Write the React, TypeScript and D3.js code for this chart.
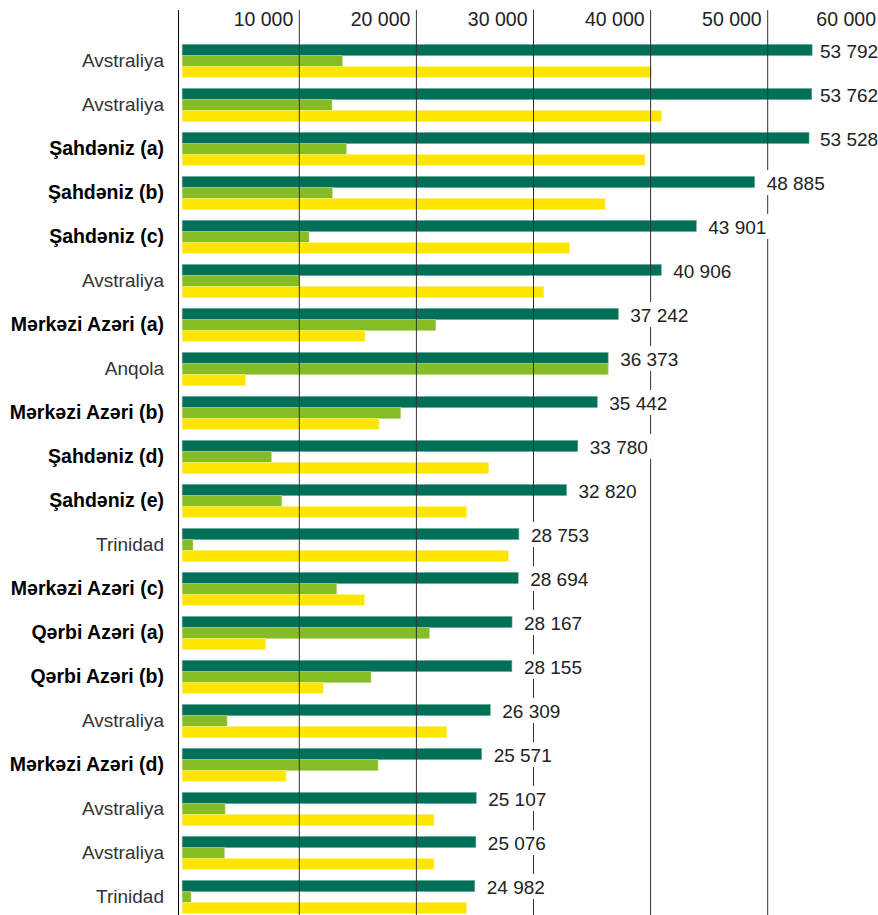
import React from "react";
import * as d3 from "d3";

const categories = [
  "Avstraliya", "Avstraliya", "Şahdəniz (a)", "Şahdəniz (b)", "Şahdəniz (c)",
  "Avstraliya", "Mərkəzi Azəri (a)", "Anqola", "Mərkəzi Azəri (b)", "Şahdəniz (d)",
  "Şahdəniz (e)", "Trinidad", "Mərkəzi Azəri (c)", "Qərbi Azəri (a)", "Qərbi Azəri (b)",
  "Avstraliya", "Mərkəzi Azəri (d)", "Avstraliya", "Avstraliya", "Trinidad",
];
const boldFlags = [
  false, false, true, true, true,
  false, true, false, true, true,
  true, false, true, true, true,
  false, true, false, false, false,
];
const totalValues = [
  53792, 53762, 53528, 48885, 43901, 40906, 37242, 36373, 35442, 33780,
  32820, 28753, 28694, 28167, 28155, 26309, 25571, 25107, 25076, 24982,
];
const greenValues = [
  13670, 12790, 14010, 12820, 10830, 10000, 21650, 36373, 18660, 7610,
  8500, 920, 13190, 21100, 16120, 3830, 16720, 3660, 3600, 750,
];
const yellowValues = [
  40090, 40950, 39520, 36110, 33090, 30870, 15610, 5390, 16810, 26170,
  24300, 27850, 15550, 7130, 12050, 22590, 8860, 21500, 21500, 24280,
];
const tickValues = [10000, 20000, 30000, 40000, 50000, 60000];

const seriesKeys = ["total", "green", "yellow"];
const colors: Record<string, string> = { total: "#007058", green: "#86bc25", yellow: "#ffe600" };
const strokes: Record<string, string> = { total: "#5fa592", green: "#b3d67a", yellow: "#fff07a" };

const W = 878;
const H = 915;
const fmt = (v: number) => d3.format(",")(v).replace(/,/g, " ");

export default function App() {
  const x = d3.scaleLinear().domain([0, 60000]).range([182.2, 182.2 + 6 * 117.1]);
  const y = d3
    .scaleBand<number>()
    .domain(d3.range(categories.length))
    .range([39, 39 + categories.length * 44]);
  const inner = d3.scaleBand<string>().domain(seriesKeys).range([5.5, 38.5]);
  const font = "'Liberation Sans', Arial, Helvetica, sans-serif";

  const rows = categories.map((c, i) => ({
    name: c,
    bold: boldFlags[i],
    vals: { total: totalValues[i], green: greenValues[i], yellow: yellowValues[i] } as Record<string, number>,
  }));

  return (
    <svg
      width={W}
      height={H}
      style={{ position: "absolute", left: 0, top: 0, background: "#fff" }}
      fontFamily={font}
    >
      <rect x={0} y={0} width={W} height={H} fill="#fff" />
      {rows.map((r, i) => (
        <g key={"b" + i} transform={`translate(0,${y(i)})`}>
          {seriesKeys.map((k) => (
            <rect
              key={k}
              x={x(0)}
              y={inner(k)}
              width={x(r.vals[k]) - x(0)}
              height={inner.bandwidth()}
              fill={colors[k]}
              stroke={strokes[k]}
              strokeWidth={0.6}
            />
          ))}
        </g>
      ))}
      {tickValues.map((t) => (
        <line key={"g" + t} x1={x(t)} x2={x(t)} y1={10} y2={H} stroke="#333" strokeWidth={1} />
      ))}
      <line x1={178.5} x2={178.5} y1={10} y2={H} stroke="#000" strokeWidth={1} />
      {tickValues.map((t) => (
        <text
          key={"t" + t}
          x={Math.min(x(t) - 6, W - 2)}
          y={26}
          textAnchor="end"
          fontSize={19.5}
          fill="#222"
        >
          {fmt(t)}
        </text>
      ))}
      {rows.map((r, i) => {
        const lx = Math.min(x(r.vals.total) + 12, W - 58);
        const by = y(i)!;
        return (
          <g key={"v" + i}>
            <rect x={lx - 4} y={by - 1} width={66} height={25} fill="#fff" />
            <text x={lx} y={by + 18.5} fontSize={19} fill="#222">
              {fmt(r.vals.total)}
            </text>
          </g>
        );
      })}
      {rows.map((r, i) => (
        <text
          key={"c" + i}
          x={164}
          y={y(i)! + 28}
          textAnchor="end"
          fontSize={r.bold ? 19.5 : 19}
          fontWeight={r.bold ? "bold" : "normal"}
          fill={r.bold ? "#000" : "#333"}
        >
          {r.name}
        </text>
      ))}
    </svg>
  );
}
